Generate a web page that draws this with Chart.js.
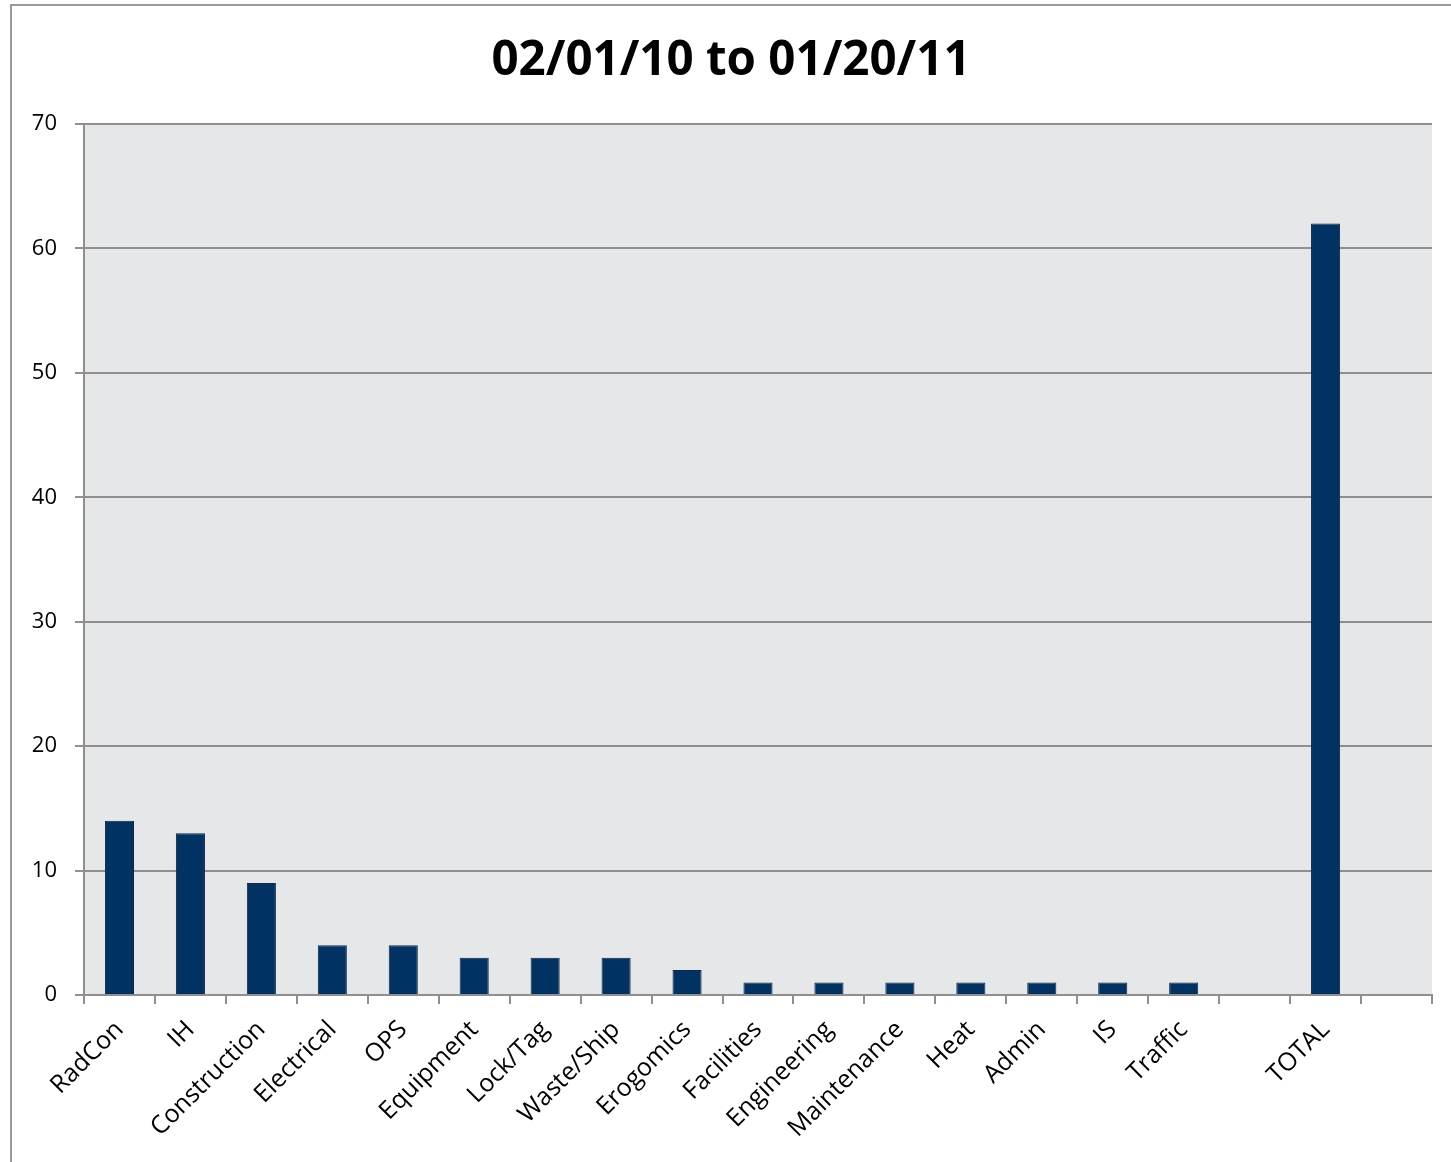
<!DOCTYPE html>
<html>
  <head>
    <script src="https://cdn.jsdelivr.net/npm/chart.js@4/dist/chart.umd.min.js"></script>
    <style>
      body { margin: 0; background: #fff; }
    </style>
  </head>

  <body>
    <canvas id="canvas" width="1451" height="1162"></canvas>
    <script>
      const categories = ['RadCon', 'IH', 'Construction', 'Electrical', 'OPS', 'Equipment', 'Lock/Tag', 'Waste/Ship',
        'Erogomics', 'Facilities', 'Engineering', 'Maintenance', 'Heat', 'Admin', 'IS', 'Traffic', '', 'TOTAL', ''];
      const counts = [14, 13, 9, 4, 4, 3, 3, 3, 2, 1, 1, 1, 1, 1, 1, 1, null, 62, null];
      const yTicks = [0, 10, 20, 30, 40, 50, 60, 70];

      const lineGray = '#8f8f8f';

      // plot area fill + outer frame like the excel chart
      const frame = {
        id: 'frame',
        beforeDraw(chart) {
          const { ctx, chartArea: a } = chart;
          ctx.save();
          ctx.fillStyle = '#e6e7e9';
          ctx.fillRect(a.left, a.top, a.right - a.left, a.bottom - a.top);
          ctx.strokeStyle = '#9a9a9a';
          ctx.lineWidth = 2;
          ctx.strokeRect(11, 5, 1480, 1200);
          ctx.restore();
        },
      };

      new Chart(document.getElementById('canvas').getContext('2d'), {
        type: 'bar',
        data: {
          labels: categories,
          datasets: [
            {
              data: counts,
              backgroundColor: '#003263',
              borderColor: '#12263f',
              borderWidth: 1,
              barPercentage: 0.41,
              categoryPercentage: 1,
            },
          ],
        },
        options: {
          responsive: false,
          animation: false,
          layout: { padding: { left: 30, right: 19, top: 0, bottom: 0 } },
          plugins: {
            legend: { display: false },
            tooltip: { enabled: false },
            title: {
              display: true,
              text: '02/01/10 to 01/20/11',
              color: '#000',
              font: { family: 'Open Sans', size: 47.5, weight: 'bold' },
              padding: { top: 33, bottom: 34 },
            },
          },
          scales: {
            x: {
              grid: { drawOnChartArea: false, drawTicks: true, tickLength: 9, color: lineGray, lineWidth: 2 },
              border: { display: true, color: lineGray, width: 2 },
              ticks: {
                color: '#000',
                font: { family: 'Open Sans', size: 25 },
                minRotation: 45,
                maxRotation: 45,
                autoSkip: false,
                padding: 11,
              },
              afterFit(scale) {
                scale.height = 167;
              },
            },
            y: {
              min: 0,
              max: 70,
              afterBuildTicks(scale) {
                scale.ticks = yTicks.map((v) => ({ value: v }));
              },
              grid: { color: lineGray, lineWidth: 2, tickLength: 9 },
              border: { display: true, color: lineGray, width: 2 },
              ticks: {
                color: '#000',
                font: { family: 'Open Sans', size: 22 },
                padding: 18,
              },
              afterFit(scale) {
                scale.width = 54;
              },
            },
          },
        },
        plugins: [frame],
      });
    </script>
  </body>
</html>
